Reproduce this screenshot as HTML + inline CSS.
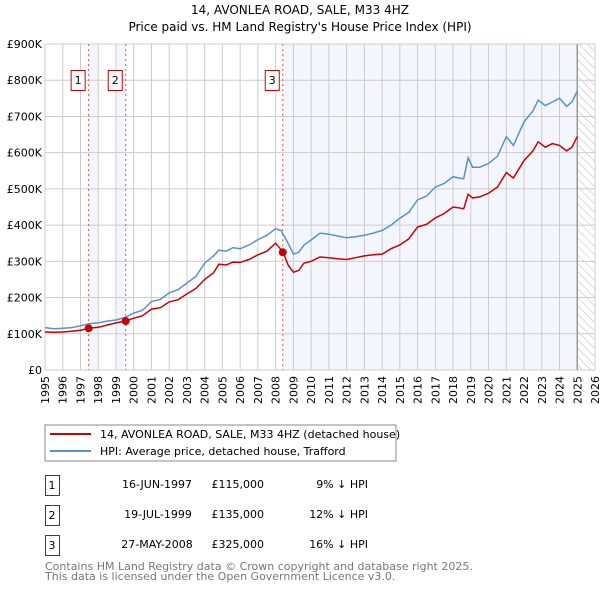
<!DOCTYPE html>
<html><head><meta charset="utf-8"><style>
body{margin:0;background:#fff;font-family:"DejaVu Sans","Liberation Sans",sans-serif;}
svg text{font-family:"DejaVu Sans","Liberation Sans",sans-serif;}
</style></head><body>
<svg id="chart" width="600" height="590" xmlns="http://www.w3.org/2000/svg">
<defs><pattern id="hatch" width="6" height="6" patternUnits="userSpaceOnUse" patternTransform="rotate(-45)"><line x1="0" y1="0" x2="0" y2="6" stroke="#bbb" stroke-width="1"/></pattern></defs>
<text x="300" y="14" text-anchor="middle" font-size="12">14, AVONLEA ROAD, SALE, M33 4HZ</text>
<text x="300" y="31" text-anchor="middle" font-size="12">Price paid vs. HM Land Registry's House Price Index (HPI)</text>
<g id="bg"></g><g id="grid"></g><g id="series"></g><g id="axes"></g>
<rect x="45" y="425" width="351" height="36" fill="#fff" stroke="#888"/>
<line x1="50" y1="434" x2="91" y2="434" stroke="#cc0000" stroke-width="2"/>
<text x="100" y="438" font-size="11">14, AVONLEA ROAD, SALE, M33 4HZ (detached house)</text>
<line x1="50" y1="451" x2="91" y2="451" stroke="#5b8fd4" stroke-width="2"/>
<text x="100" y="455" font-size="11">HPI: Average price, detached house, Trafford</text>
<g font-size="11">
<rect x="45.5" y="475.5" width="14" height="20" fill="none" stroke="#cc0000"/><text x="52" y="489" text-anchor="middle">1</text>
<text x="157" y="488" text-anchor="middle">16-JUN-1997</text><text x="264" y="488" text-anchor="end">£115,000</text><text x="368" y="488" text-anchor="end">9% ↓ HPI</text>
<rect x="45.5" y="505.5" width="14" height="20" fill="none" stroke="#cc0000"/><text x="52" y="519" text-anchor="middle">2</text>
<text x="158" y="518" text-anchor="middle">19-JUL-1999</text><text x="264" y="518" text-anchor="end">£135,000</text><text x="368" y="518" text-anchor="end">12% ↓ HPI</text>
<rect x="45.5" y="535.5" width="14" height="20" fill="none" stroke="#cc0000"/><text x="52" y="549" text-anchor="middle">3</text>
<text x="157" y="548" text-anchor="middle">27-MAY-2008</text><text x="264" y="548" text-anchor="end">£325,000</text><text x="368" y="548" text-anchor="end">16% ↓ HPI</text>
</g>
<text x="45" y="570" font-size="11" fill="#777">Contains HM Land Registry data © Crown copyright and database right 2025.</text>
<text x="45" y="580" font-size="11" fill="#777">This data is licensed under the Open Government Licence v3.0.</text>
</svg>
<script>
const yearTicks=[1995,1996,1997,1998,1999,2000,2001,2002,2003,2004,2005,2006,2007,2008,2009,2010,2011,2012,2013,2014,2015,2016,2017,2018,2019,2020,2021,2022,2023,2024,2025,2026];
const valueTicks=[0,100000,200000,300000,400000,500000,600000,700000,800000,900000];
const valueTickLabels=["£0","£100K","£200K","£300K","£400K","£500K","£600K","£700K","£800K","£900K"];
const hpiYears=[1995,1995.5,1996,1996.5,1997,1997.5,1998,1998.5,1999,1999.5,2000,2000.5,2001,2001.5,2002,2002.5,2003,2003.5,2004,2004.5,2004.8,2005.2,2005.6,2006,2006.5,2007,2007.5,2008,2008.3,2008.7,2009,2009.3,2009.6,2010,2010.5,2011,2011.5,2012,2012.5,2013,2013.5,2014,2014.5,2015,2015.5,2016,2016.5,2017,2017.5,2018,2018.3,2018.6,2018.85,2019.1,2019.5,2020,2020.5,2021,2021.4,2022,2022.5,2022.8,2023.2,2023.6,2024,2024.4,2024.7,2025];
const hpiValues=[117000,114000,115000,117000,122000,128000,130000,135000,138000,145000,157000,165000,189000,195000,213000,222000,240000,258000,295000,315000,331000,328000,338000,335000,345000,360000,372000,390000,385000,350000,320000,325000,345000,359000,378000,375000,370000,365000,368000,372000,378000,385000,400000,419000,435000,470000,480000,505000,515000,534000,530000,528000,586000,560000,560000,570000,590000,644000,620000,685000,715000,745000,730000,740000,750000,728000,740000,770000];
const priceYears=[1995,1995.5,1996,1996.5,1997,1997.46,1998,1998.5,1999,1999.55,2000,2000.5,2001,2001.5,2002,2002.5,2003,2003.5,2004,2004.5,2004.8,2005.2,2005.6,2006,2006.5,2007,2007.5,2008,2008.42,2008.7,2009,2009.3,2009.6,2010,2010.5,2011,2011.5,2012,2012.5,2013,2013.5,2014,2014.5,2015,2015.5,2016,2016.5,2017,2017.5,2018,2018.3,2018.6,2018.85,2019.1,2019.5,2020,2020.5,2021,2021.4,2022,2022.5,2022.8,2023.2,2023.6,2024,2024.4,2024.7,2025];
const priceValues=[105000,104000,105000,107000,110000,115000,118000,124000,130000,135000,143000,150000,168000,172000,188000,194000,210000,225000,250000,268000,292000,290000,298000,297000,305000,318000,328000,350000,325000,290000,270000,275000,295000,300000,312000,310000,307000,305000,310000,315000,318000,320000,335000,345000,362000,395000,402000,420000,432000,450000,448000,445000,485000,475000,478000,488000,505000,545000,530000,578000,605000,630000,615000,625000,620000,605000,615000,645000];
const saleYears=[1997.46,1999.55,2008.4];
const saleValues=[115000,135000,325000];
const saleLabels=["1","2","3"];
const NS="http://www.w3.org/2000/svg";
const L=45,R=595,T=44,B=370;
const xs=y=>L+(y-1995)/(2026-1995)*(R-L);
const ys=v=>B-v/900000*(B-T);
function mk(tag,attrs,parent){const e=document.createElementNS(NS,tag);for(const k in attrs)e.setAttribute(k,attrs[k]);document.getElementById(parent).appendChild(e);return e;}
let r;
r=mk('rect',{x:xs(saleYears[0]),y:T,width:xs(1998)-xs(saleYears[0]),height:B-T,fill:'#eef3fc',opacity:0.7},'bg');


r=mk('rect',{x:xs(1999),y:T,width:xs(saleYears[1])-xs(1999),height:B-T,fill:'#eef3fc',opacity:0.7},'bg');


r=mk('rect',{x:xs(saleYears[2]),y:T,width:xs(2025)-xs(saleYears[2]),height:B-T,fill:'#eef3fc',opacity:0.7},'bg');


r=mk('rect',{x:xs(2025),y:T,width:xs(2026)-xs(2025),height:B-T,fill:'url(#hatch)'},'bg');


yearTicks.forEach(y=>{let g=mk('line',{x1:xs(y),x2:xs(y),y1:T,y2:B,stroke:'#ccc','stroke-width':1},'grid');


let t=mk('text',{x:0,y:0,'font-size':11,'text-anchor':'end',transform:`translate(${xs(y)+4},${B+6}) rotate(-90)`},'axes');t.textContent=y;

});
valueTicks.forEach((v,i)=>{let g=mk('line',{x1:L,x2:R,y1:ys(v),y2:ys(v),stroke:'#ccc','stroke-width':1},'grid');


let t=mk('text',{x:L-3,y:ys(v)+4,'font-size':11,'text-anchor':'end'},'axes');t.textContent=valueTickLabels[i];

});
r=mk('line',{x1:xs(2025),x2:xs(2025),y1:T,y2:B,stroke:'#999','stroke-width':1.5},'grid');


saleYears.forEach((y,i)=>{let l=mk('line',{x1:xs(y),x2:xs(y),y1:T,y2:B,stroke:'#e05555','stroke-dasharray':'2,3','stroke-width':1},'series');


let b=mk('rect',{x:xs(y)-17.5,y:70.5,width:14,height:20,fill:'#fff',stroke:'#cc0000'},'series');


let t=mk('text',{x:xs(y)-10.5,y:84,'font-size':11,'text-anchor':'middle'},'series');t.textContent=saleLabels[i];

});
const line=(xa,va)=>xa.map((y,i)=>(i?'L':'M')+xs(y).toFixed(1)+','+ys(va[i]).toFixed(1)).join('');
r=mk('path',{d:line(hpiYears,hpiValues),fill:'none',stroke:'#5b8fd4','stroke-width':1.5},'series');


r=mk('path',{d:line(priceYears,priceValues),fill:'none',stroke:'#cc0000','stroke-width':1.5},'series');


saleYears.forEach((y,i)=>{let c=mk('circle',{cx:xs(y),cy:ys(saleValues[i]),r:4,fill:'#cc0000'},'series');

});
</script>
</body></html>
